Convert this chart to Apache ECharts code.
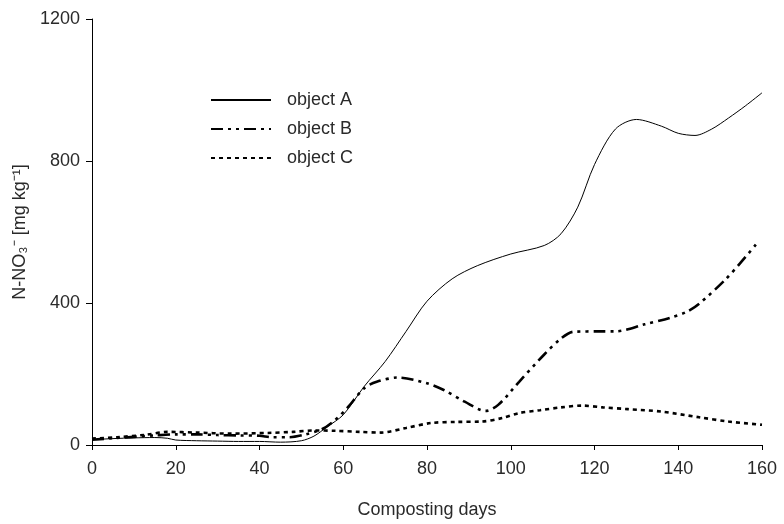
<!DOCTYPE html>
<html>
<head>
<meta charset="utf-8">
<script src="https://cdn.jsdelivr.net/npm/echarts@6/dist/echarts.min.js"></script>
<style>html,body{margin:0;padding:0;background:#fff}#c{width:784px;height:524px}</style>
</head>
<body>
<div id="c"></div>
<script>
const xTicks = [0, 20, 40, 60, 80, 100, 120, 140, 160];
const yTicks = [0, 400, 800, 1200];

const seriesNames = ['object A', 'object B', 'object C'];

const daysA = [0,5,10,15,18,20,25,30,35,40,45,50,53,56,60,65,70,75,80,86,92,100,108,112,116,120,125,130,136,140,144,148,152,156,160];
const valsA = [15,18,20,21,19,14,12,11,10,10,8,12,25,50,85,165,235,320,405,468,505,538,562,595,670,790,890,917,898,878,872,890,921,955,992];

const daysB = [0,5,10,15,20,25,30,35,40,43,47,51,55,58,61,65,68,73,80,84,89,94,97,102,108,112,115,121,125,132,138,142,145,151,155,159];
const valsB = [15,19,23,27,30,30,28,27,26,22,22,30,45,70,105,160,178,190,174,155,122,96,113,178,255,300,319,320,320,340,358,375,398,463,515,571];

const daysC = [0,6,13,18,25,33,42,48,53,58,64,69,75,81,87,93,98,102,107,112,117,122,128,136,145,152,160];
const valsC = [18,22,29,37,35,32,34,37,41,40,37,35,48,62,65,66,76,90,98,106,111,106,101,94,78,66,57];

const pairs = (xs, ys) => xs.map((x, i) => [x, ys[i]]);
const font = 'Liberation Sans, Arial, sans-serif';
const txt = '#2a2a2a';

const chart = echarts.init(document.getElementById('c'), null, {renderer: 'canvas'});
chart.setOption({
  animation: false,
  backgroundColor: '#fff',
  textStyle: {fontFamily: font, color: txt},
  grid: {left: 92, right: 22, top: 19, bottom: 77, containLabel: false},
  legend: {
    left: 210, top: 91, orient: 'vertical', padding: 0,
    itemWidth: 60, itemHeight: 16, itemGap: 11,
    itemStyle: {opacity: 0},
    textStyle: {fontFamily: font, fontSize: 18, color: txt, padding: [0, 0, 0, 11]},
    data: seriesNames
  },
  xAxis: {
    type: 'value', min: 0, max: 160, interval: 20,
    name: 'Composting days', nameLocation: 'middle', nameGap: 56,
    nameTextStyle: {fontFamily: font, fontSize: 18, color: txt},
    axisLine: {show: true, lineStyle: {color: '#000', width: 1}},
    axisTick: {show: true, length: 5, lineStyle: {color: '#000'}},
    axisLabel: {fontFamily: font, fontSize: 18, color: txt, margin: 15,
      formatter: v => xTicks.includes(v) ? String(v) : ''},
    splitLine: {show: false}
  },
  yAxis: {
    type: 'value', min: 0, max: 1200, interval: 400,
    name: 'N-NO₃⁻ [mg kg⁻¹]', nameLocation: 'middle', nameGap: 61,
    nameTextStyle: {fontFamily: font, fontSize: 18, color: txt},
    axisLine: {show: true, lineStyle: {color: '#000', width: 1}},
    axisTick: {show: true, length: 6, lineStyle: {color: '#000'}},
    axisLabel: {fontFamily: font, fontSize: 18, color: txt, margin: 12,
      formatter: v => yTicks.includes(v) ? String(v) : ''},
    splitLine: {show: false}
  },
  series: [
    {name: seriesNames[0], type: 'line', data: pairs(daysA, valsA), smooth: 0.3,
      symbol: 'none', lineStyle: {color: '#000', width: 1, type: 'solid'}, itemStyle: {color: '#000'}},
    {name: seriesNames[1], type: 'line', data: pairs(daysB, valsB), smooth: 0.3,
      symbol: 'none', lineStyle: {color: '#000', width: 2.6, type: [12, 5, 3, 5, 3, 5]}, itemStyle: {color: '#000'}},
    {name: seriesNames[2], type: 'line', data: pairs(daysC, valsC), smooth: 0.3,
      symbol: 'none', lineStyle: {color: '#000', width: 2.6, type: [4, 4]}, itemStyle: {color: '#000'}}
  ]
});
</script>
</body>
</html>
